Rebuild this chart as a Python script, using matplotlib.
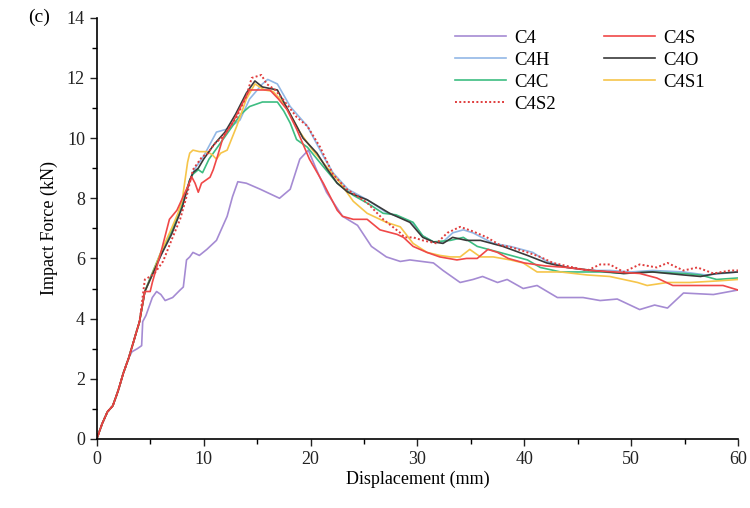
import matplotlib
matplotlib.use("Agg")
import matplotlib.pyplot as plt
from matplotlib.ticker import MultipleLocator

plt.rcParams['font.family'] = ['Liberation Serif', 'DejaVu Serif']

# shared initial loading ramp (all specimens overlap here)
start_x = [0, 0.5, 1.0, 1.5, 2.0, 2.5, 3.0, 3.5, 4.0, 4.5]
start_y = [0, 0.5, 0.9, 1.1, 1.6, 2.2, 2.7, 3.3, 3.9, 4.9]

c4_x = [0, 0.5, 1.0, 1.5, 2.0, 2.5, 3.0, 3.3, 3.8, 4.2, 4.3, 4.6, 5.2, 5.6, 6.0, 6.4, 7.1, 7.8,
        8.1, 8.4, 8.7, 9.0, 9.6, 10.3, 11.2, 12.2, 12.7, 13.2, 14.0, 15.3, 16.5, 17.1, 18.1, 19.0,
        19.8, 20.5, 21.5, 23.0, 24.4, 25.7, 27.1, 28.4, 29.3, 31.5, 32.4, 34.0, 35.2, 36.1, 37.5,
        38.4, 39.9, 41.2, 43.1, 44.0, 45.5, 47.1, 48.7, 50.8, 52.2, 53.4, 54.9, 57.7, 60.0]
c4_y = [0, 0.5, 0.9, 1.1, 1.6, 2.2, 2.7, 2.9, 3.0, 3.1, 3.9, 4.1, 4.7, 4.9, 4.8, 4.6, 4.7, 4.95,
        5.05, 5.95, 6.05, 6.2, 6.1, 6.3, 6.6, 7.4, 8.05, 8.55, 8.5, 8.3, 8.1, 8.0, 8.3, 9.3,
        9.6, 9.0, 8.2, 7.4, 7.1, 6.4, 6.05, 5.9, 5.95, 5.85, 5.6, 5.2, 5.3, 5.4, 5.2,
        5.3, 5.0, 5.1, 4.7, 4.7, 4.7, 4.6, 4.65, 4.3, 4.45, 4.35, 4.85, 4.8, 4.95]

c4s_x = start_x + [5.0, 5.2, 6.0, 6.8, 7.5, 8.4, 8.9, 9.2, 9.5, 9.8, 10.6, 10.9, 11.3, 11.8, 12.7,
                   13.7, 14.3, 15.3, 16.2, 17.0, 17.8, 18.7, 19.9, 21.2, 22.5, 23.0, 24.0, 25.3,
                   26.5, 28.1, 28.7, 29.6, 30.9, 32.1, 33.7, 34.6, 35.6, 36.6, 37.5, 38.5, 40.0,
                   42.0, 44.0, 46.2, 48.5, 50.8, 52.4, 53.9, 56.7, 58.6, 60.0]
c4s_y = start_y + [4.9, 5.2, 6.2, 7.3, 7.6, 8.3, 8.7, 8.5, 8.2, 8.5, 8.7, 8.95, 9.4, 10.0, 10.5,
                   11.2, 11.6, 11.6, 11.6, 11.3, 10.95, 10.3, 9.3, 8.5, 7.6, 7.4, 7.3, 7.3,
                   6.95, 6.8, 6.7, 6.4, 6.2, 6.05, 5.95, 6.0, 6.0, 6.3, 6.2, 6.0, 5.85,
                   5.75, 5.7, 5.6, 5.55, 5.5, 5.35, 5.1, 5.1, 5.1, 4.95]

c4h_x = start_x + [5.0, 6.0, 7.0, 8.0, 8.7, 9.2, 10.0, 11.2, 12.2, 13.4, 14.3, 15.5, 16.0, 16.9,
                   18.1, 19.7, 21.2, 22.1, 23.5, 25.3, 27.0, 28.5, 29.5, 30.5, 31.5, 32.4, 33.3,
                   34.3, 35.2, 37.1, 38.7, 40.8, 42.1, 44.0, 46.0, 48.0, 50.0, 52.0, 54.9, 57.0,
                   58.5, 60.0]
c4h_y = start_y + [5.3, 6.1, 6.9, 7.8, 8.6, 9.0, 9.4, 10.2, 10.3, 10.6, 11.3, 11.8, 11.95, 11.8,
                   11.05, 10.4, 9.4, 8.85, 8.3, 7.95, 7.55, 7.35, 7.2, 6.75, 6.55, 6.55, 6.85,
                   6.95, 6.85, 6.5, 6.4, 6.2, 5.9, 5.7, 5.6, 5.6, 5.55, 5.6, 5.55, 5.45,
                   5.5, 5.55]

c4o_x = start_x + [5.0, 6.0, 7.0, 8.0, 8.7, 9.0, 9.5, 10.0, 11.0, 12.0, 13.0, 14.0, 14.8, 15.5,
                   16.9, 18.1, 19.3, 20.6, 21.5, 22.5, 23.5, 25.3, 27.4, 29.3, 30.5, 31.5, 32.4,
                   33.3, 34.6, 35.9, 38.0, 40.3, 42.1, 44.0, 46.4, 49.3, 52.0, 54.9, 56.5, 58.0,
                   60.0]
c4o_y = start_y + [5.3, 6.1, 6.8, 7.7, 8.6, 8.85, 9.0, 9.3, 9.8, 10.2, 10.8, 11.5, 11.9, 11.7,
                   11.6, 10.8, 10.0, 9.5, 9.0, 8.5, 8.2, 7.95, 7.5, 7.2, 6.7, 6.55, 6.5,
                   6.7, 6.6, 6.6, 6.4, 6.1, 5.85, 5.7, 5.6, 5.5, 5.55, 5.45, 5.4, 5.5,
                   5.55]

c4c_x = start_x + [5.0, 6.0, 7.0, 8.0, 8.7, 9.0, 9.5, 9.9, 10.5, 11.5, 12.5, 13.5, 14.3, 15.5,
                   16.9, 17.5, 18.1, 18.7, 19.7, 21.2, 22.5, 24.0, 25.5, 26.8, 28.0, 29.6, 30.5,
                   31.5, 33.1, 34.3, 35.6, 37.7, 40.3, 41.5, 43.4, 45.9, 47.4, 49.3, 52.0, 54.9,
                   56.5, 58.0, 60.0]
c4c_y = start_y + [5.35, 6.2, 6.9, 7.8, 8.6, 8.8, 8.95, 8.85, 9.3, 9.8, 10.3, 10.8, 11.05, 11.2,
                   11.2, 10.9, 10.5, 9.95, 9.7, 9.05, 8.5, 8.1, 7.8, 7.5, 7.45, 7.2, 6.75,
                   6.55, 6.6, 6.7, 6.4, 6.2, 5.95, 5.7, 5.55, 5.55, 5.55, 5.5, 5.55, 5.5,
                   5.45, 5.3, 5.35]

c4s1_x = start_x + [5.0, 6.0, 7.0, 7.6, 8.0, 8.5, 8.7, 9.0, 9.6, 10.3, 10.8, 11.2, 11.6, 12.2,
                    13.1, 14.0, 14.8, 15.7, 16.5, 17.4, 18.4, 19.0, 20.2, 21.5, 22.8, 24.0, 25.3,
                    27.1, 28.4, 29.6, 30.9, 32.1, 33.1, 34.0, 34.9, 35.9, 37.1, 38.7, 39.9, 41.2,
                    43.4, 45.9, 48.0, 50.6, 51.5, 53.4, 55.5, 58.0, 60.0]
c4s1_y = start_y + [5.3, 6.2, 7.0, 7.5, 7.95, 9.2, 9.5, 9.6, 9.55, 9.55, 9.45, 9.3, 9.5, 9.6,
                    10.4, 11.3, 11.8, 11.6, 11.55, 11.2, 10.6, 10.2, 9.6, 9.05, 8.5, 7.9, 7.5,
                    7.2, 7.05, 6.5, 6.2, 6.1, 6.05, 6.05, 6.3, 6.05, 6.05, 5.95, 5.85, 5.55,
                    5.55, 5.45, 5.4, 5.2, 5.1, 5.2, 5.2, 5.25, 5.3]

c4s2_x = start_x[:-1] + [4.5, 5.0, 5.4, 6.2, 7.1, 7.8, 8.4, 9.0, 9.9, 10.3, 11.0, 11.8, 13.1, 14.0,
                         14.5, 15.4, 15.9, 16.7, 17.4, 18.7, 19.7, 20.9, 22.1, 23.4, 25.3, 26.8,
                         28.4, 28.8, 29.6, 30.5, 31.8, 32.8, 34.0, 35.2, 36.5, 37.7, 39.0, 40.3,
                         41.5, 42.7, 44.6, 45.9, 47.1, 48.0, 49.3, 50.8, 52.4, 53.4, 54.9, 56.2,
                         57.7, 59.3, 60.0]
c4s2_y = start_y[:-1] + [5.3, 5.4, 5.5, 5.9, 6.7, 7.3, 8.05, 8.95, 9.4, 9.45, 9.8, 10.05, 10.7, 11.4,
                         12.0, 12.1, 11.8, 11.6, 11.3, 10.7, 10.4, 9.7, 8.8, 8.3, 7.85, 7.3,
                         6.85, 6.7, 6.7, 6.6, 6.5, 6.85, 7.05, 6.9, 6.7, 6.45, 6.35, 6.2,
                         6.05, 5.85, 5.7, 5.6, 5.8, 5.8, 5.55, 5.8, 5.7, 5.85, 5.6, 5.7,
                         5.5, 5.6, 5.6]

fig = plt.figure(figsize=(7.5, 5.08), dpi=100)
ax = fig.add_axes([0.129, 0.136, 0.855, 0.829])

lw = 1.2
l_c4, = ax.plot(c4_x, c4_y, color='#a58bd3', lw=lw, label='C4')
l_c4h, = ax.plot(c4h_x, c4h_y, color='#92b8e6', lw=lw, label='C4H')
l_c4c, = ax.plot(c4c_x, c4c_y, color='#3dbd82', lw=lw, label='C4C')
l_c4s1, = ax.plot(c4s1_x, c4s1_y, color='#f6c54a', lw=lw, label='C4S1')
l_c4o, = ax.plot(c4o_x, c4o_y, color='#3a3a3a', lw=lw, label='C4O')
l_c4s, = ax.plot(c4s_x, c4s_y, color='#f04848', lw=lw, label='C4S')
l_c4s2, = ax.plot(c4s2_x, c4s2_y, color='#e03c3c', lw=1.4, ls=(0, (1, 1.2)), label='C4S2')

ax.set_xlim(0, 60)
ax.set_ylim(0, 14)
ax.xaxis.set_major_locator(MultipleLocator(10))
ax.xaxis.set_minor_locator(MultipleLocator(5))
ax.yaxis.set_major_locator(MultipleLocator(2))
ax.yaxis.set_minor_locator(MultipleLocator(1))
ax.tick_params(which='major', direction='out', length=5, width=1, labelsize=13, colors='#222222')
ax.tick_params(which='minor', direction='out', length=3.5, width=1)
ax.spines['top'].set_visible(False)
ax.spines['right'].set_visible(False)
for s in ['left', 'bottom']:
    ax.spines[s].set_linewidth(1.2)

ax.set_xlabel('Displacement (mm)', fontsize=13, labelpad=2)
ax.set_ylabel('Impact Force (kN)', fontsize=13, labelpad=6)

# legend filled column-wise so it reads row-wise like the original
handles = [l_c4, l_c4h, l_c4c, l_c4s2, l_c4s, l_c4o, l_c4s1]
ax.legend(handles=handles, labels=[h.get_label() for h in handles], ncol=2, frameon=False,
          fontsize=13.5, loc='upper right', bbox_to_anchor=(0.975, 1.012), handlelength=2.7,
          columnspacing=2.6, labelspacing=0.26, handletextpad=0.45)

fig.text(0.038, 0.965, '(c)', fontsize=14, va='center', ha='left')

fig.savefig('out.png', dpi=100)
